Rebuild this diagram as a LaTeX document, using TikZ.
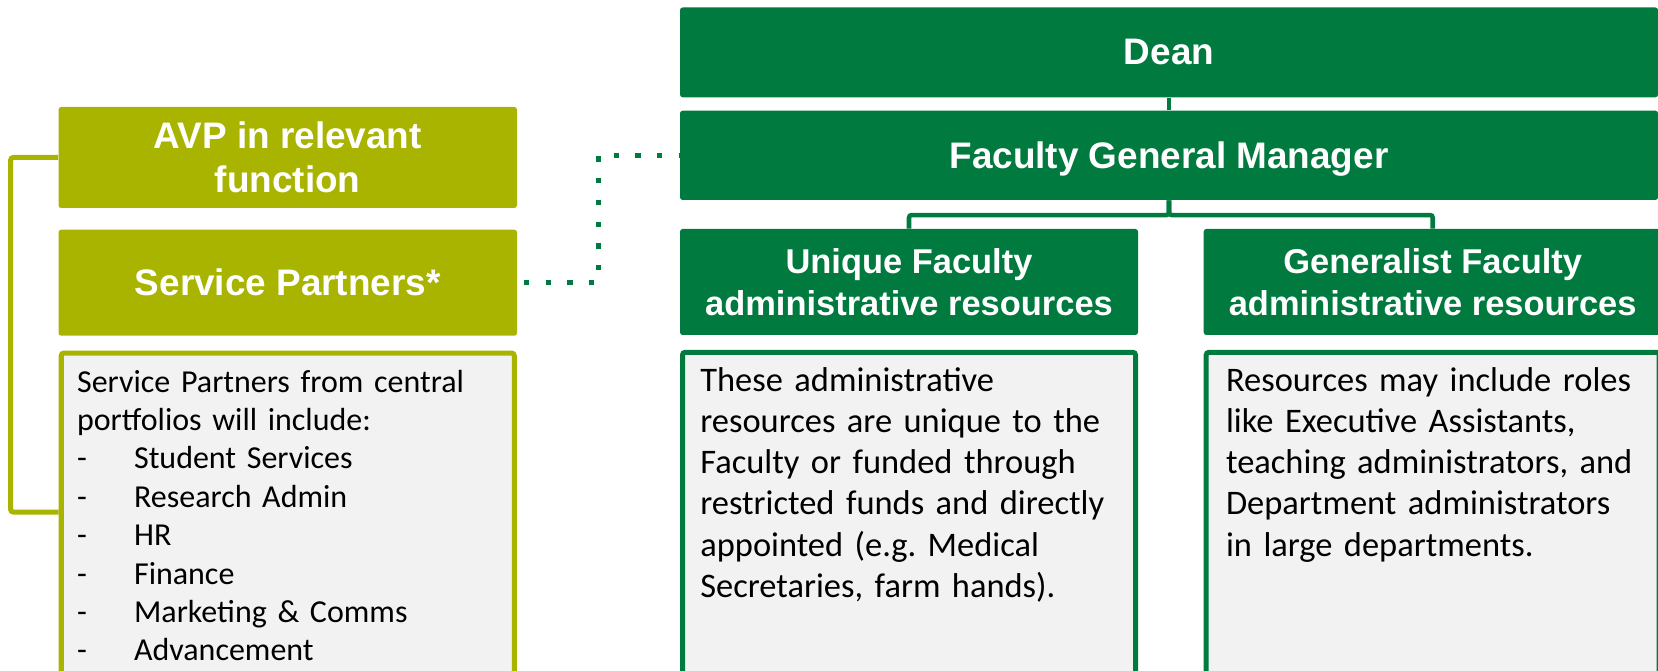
\documentclass[tikz,border=0pt]{standalone}
\usepackage{fontspec}
\setmainfont{Carlito}
\newfontfamily\headfont{Liberation Sans}
\usetikzlibrary{calc, positioning}

\definecolor{facgreen}{HTML}{007A3E}
\definecolor{avpolive}{HTML}{A9B400}
\definecolor{descgray}{HTML}{F2F2F2}

\newcommand{\spitem}[1]{\makebox[1.14cm][l]{-}#1}

\tikzset{
	headbox/.style={fill=#1, rounded corners=1.5pt, inner sep=0pt, align=center, text=white,
		font=\headfont\bfseries\fontsize{21}{24.7}\selectfont},
	subbox/.style={headbox=facgreen, minimum width=9.16cm, minimum height=2.12cm,
		font=\headfont\bfseries\fontsize{19.6}{24.1}\selectfont},
	descbox/.style={draw=#1, fill=descgray, line width=2.85pt, rounded corners=1.5pt,
		minimum width=9.06cm, minimum height=7cm, anchor=north},
	desctext/.style={anchor=base west, align=left, inner sep=0pt, text width=8.6cm,
		font=\fontsize{19.6}{23.45}\selectfont},
	orgline/.style={draw=facgreen, line width=2.6pt, rounded corners=1.5pt},
	avpline/.style={draw=avpolive, line width=2.85pt, rounded corners=1.5pt},
	dotline/.style={draw=facgreen, line width=3pt, dash pattern=on 3pt off 9.35pt, dash phase=8.55pt}
}

\begin{document}
\begin{tikzpicture}
	\path[use as bounding box, clip] (0,0) rectangle (33.16,13.42);
	\fill[white] (0,0) rectangle (33.16,13.42);

	\node[headbox=facgreen, minimum width=19.56cm, minimum height=1.796cm] (dean) at (23.38,12.372) {Dean};
	\node[headbox=facgreen, minimum width=19.56cm, minimum height=1.786cm, text depth=0pt, below=0.254cm of dean] (fgm) {Faculty General Manager};

	\node[headbox=avpolive, minimum width=9.17cm, minimum height=2.02cm] (avp) at (5.755,10.27) {AVP in relevant\\function};
	\node[headbox=avpolive, minimum width=9.17cm, minimum height=2.12cm, below=0.42cm of avp] (sp) {Service Partners*};

	\node[subbox] (unique) at (18.18,7.78) {Unique Faculty\\administrative resources};
	\node[subbox, right=1.3cm of unique] (general) {Generalist Faculty\\administrative resources};

	\node[descbox=avpolive, below=0.29cm of sp] (spdesc) {};
	\node[descbox=facgreen, below=0.29cm of unique] (uniquedesc) {};
	\node[descbox=facgreen, below=0.29cm of general] (generaldesc) {};

	\node[desctext, font=\fontsize{18.2}{21.85}\selectfont] (sptext) at ($(spdesc.north west)+(0.36,-0.83)$) {Service Partners from central\\
		portfolios will include:\\
		\spitem{Student Services}\\
		\spitem{Research Admin}\\
		\spitem{HR}\\
		\spitem{Finance}\\
		\spitem{Marketing \& Comms}\\
		\spitem{Advancement}};
	\node[desctext] (uniquetext) at ($(uniquedesc.north west)+(0.4,-0.83)$) {These administrative\\
		resources are unique to the\\
		Faculty or funded through\\
		restricted funds and directly\\
		appointed (e.g.\ Medical\\
		Secretaries, farm hands).};
	\node[desctext] (generaltext) at ($(generaldesc.north west)+(0.44,-0.83)$) {Resources may include roles\\
		like Executive Assistants,\\
		teaching administrators, and\\
		Department administrators\\
		in large departments.};

	\draw[orgline] (dean) -- (fgm);
	\draw[orgline] (fgm.south) -- ++(0,-0.294) -| (unique.north);
	\draw[orgline] (fgm.south) -- ++(0,-0.294) -| (general.north);

	\coordinate (spjoin) at ($(spdesc.north west)+(0,-3.23)$);
	\draw[avpline] (avp.west) -- ++(-0.95,0) |- (spjoin);

	\draw[dotline] (sp.east) -- ++(1.62,0) |- (fgm.west);
\end{tikzpicture}
\end{document}
